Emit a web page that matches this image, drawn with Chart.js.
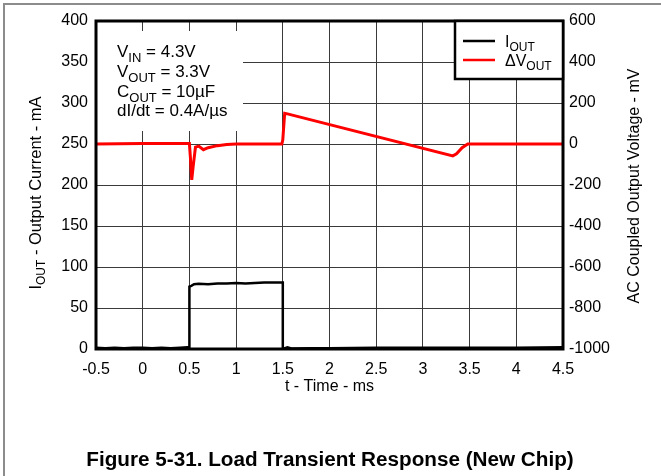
<!DOCTYPE html>
<html lang="en">
<head>
    <meta charset="UTF-8">
    <title>Load Transient Response (New Chip)</title>
    <script src="https://cdn.jsdelivr.net/npm/chart.js"></script>
    <style>
        body {
            margin: 0;
            background-color: white;
        }
        .wrap {
            position: relative;
            width: 661px;
            height: 476px;
        }
    </style>
</head>
<body>
    <div class="wrap">
        <canvas id="transientChart" width="661" height="476"></canvas>
    </div>

    <script>
        // Output current trace (time in ms, current in mA)
        const iTime = [-0.5, -0.4, -0.3, -0.2, -0.1, 0, 0.1, 0.2, 0.3, 0.4, 0.48, 0.5, 0.5, 0.52, 0.55, 0.6, 0.7, 0.8, 0.9, 1.0, 1.1, 1.2, 1.3, 1.4, 1.49, 1.5, 1.5, 1.55, 1.6, 1.8, 2.0, 2.5, 3.0, 3.5, 4.0, 4.5];
        const iOut  = [1.5, 1, 1.5, 1, 1.5, 1.5, 1, 1.5, 1, 1.5, 2, 2, 76, 77, 79, 79.5, 79, 80, 80, 80.5, 80, 80.5, 81, 81, 81, 81, 0, 2, 0.5, 1, 1, 1.5, 1.5, 1.5, 1.5, 2];

        // AC coupled output voltage trace (time in ms, voltage in mV)
        const vTime = [-0.5, 0, 0.5, 0.51, 0.525, 0.54, 0.565, 0.6, 0.65, 0.7, 0.8, 0.9, 1.0, 1.49, 1.5, 1.52, 1.55, 3.32, 3.36, 3.42, 3.48, 3.6, 4.0, 4.5];
        const vOut  = [0, 2, 2, -60, -175, -110, -15, -10, -28, -18, -8, -3, 0, 0, 20, 150, 147, -58, -48, -18, 0, 0, 0, 0];

        // Axis ranges / ticks
        const xRange = [-0.5, 4.5];
        const xStep = 0.5;
        const iRange = [0, 400];
        const iStep = 50;
        const vRange = [-1000, 600];
        const vStep = 200;

        const FONT = '"Liberation Sans", Arial, sans-serif';

        function toPoints(xs, ys) {
            return xs.map((x, i) => ({ x: x, y: ys[i] }));
        }

        // text with subscripts: parts = [[text, isSub], ...]
        function drawRich(ctx, parts, x, y, size, align) {
            const big = size + 'px ' + FONT;
            const small = Math.round(size * 0.75) + 'px ' + FONT;
            let w = 0;
            parts.forEach(p => {
                ctx.font = p[1] ? small : big;
                w += ctx.measureText(p[0]).width;
            });
            let cx = align === 'center' ? x - w / 2 : x;
            ctx.textAlign = 'left';
            ctx.textBaseline = 'alphabetic';
            parts.forEach(p => {
                ctx.font = p[1] ? small : big;
                ctx.fillText(p[0], cx, y + (p[1] ? size * 0.27 : 0));
                cx += ctx.measureText(p[0]).width;
            });
        }

        const decorations = {
            id: 'decorations',
            beforeDraw(chart) {
                const ctx = chart.ctx;
                ctx.save();
                ctx.fillStyle = 'white';
                ctx.fillRect(0, 0, chart.width, chart.height);
                // figure frame (left + top)
                ctx.strokeStyle = '#8c8c8c';
                ctx.lineWidth = 2;
                ctx.beginPath();
                ctx.moveTo(4, chart.height);
                ctx.lineTo(4, 4);
                ctx.lineTo(chart.width, 4);
                ctx.stroke();
                ctx.restore();
            },
            beforeDatasetsDraw(chart) {
                // white block behind the conditions text hides the grid
                const ctx = chart.ctx;
                const a = chart.chartArea;
                ctx.save();
                ctx.fillStyle = 'white';
                ctx.fillRect(a.left, 31, 243 - a.left, 100);
                ctx.restore();
            },
            afterDraw(chart) {
                const ctx = chart.ctx;
                const a = chart.chartArea;
                ctx.save();
                ctx.fillStyle = '#000';

                // plot frame
                ctx.strokeStyle = '#000';
                ctx.lineWidth = 3;
                ctx.strokeRect(a.left, a.top, a.right - a.left, a.bottom - a.top);

                // conditions text
                const tx = a.left + 21;
                drawRich(ctx, [['V', 0], ['IN', 1], [' = 4.3V', 0]], tx, 57, 17, 'left');
                drawRich(ctx, [['V', 0], ['OUT', 1], [' = 3.3V', 0]], tx, 77, 17, 'left');
                drawRich(ctx, [['C', 0], ['OUT', 1], [' = 10\u00b5F', 0]], tx, 97, 17, 'left');
                drawRich(ctx, [['dI/dt = 0.4A/\u00b5s', 0]], tx, 116, 17, 'left');

                // legend box
                const lx = 455, ly = a.top, lw = a.right - 455, lh = 58;
                ctx.fillStyle = 'white';
                ctx.fillRect(lx, ly, lw, lh);
                ctx.lineWidth = 2.5;
                ctx.strokeStyle = '#000';
                ctx.strokeRect(lx, ly, lw, lh);
                ctx.lineWidth = 2.5;
                ctx.beginPath();
                ctx.moveTo(463, 41); ctx.lineTo(495, 41);
                ctx.stroke();
                ctx.strokeStyle = '#ff0000';
                ctx.beginPath();
                ctx.moveTo(463, 60); ctx.lineTo(495, 60);
                ctx.stroke();
                ctx.fillStyle = '#000';
                drawRich(ctx, [['I', 0], ['OUT', 1]], 505, 47, 16, 'left');
                drawRich(ctx, [['\u0394V', 0], ['OUT', 1]], 505, 66, 16, 'left');

                // axis titles
                const cy = (a.top + a.bottom) / 2;
                ctx.save();
                ctx.translate(41, cy + 8);
                ctx.rotate(-Math.PI / 2);
                drawRich(ctx, [['I', 0], ['OUT', 1], [' - Output Current - mA', 0]], 0, 0, 16.5, 'center');
                ctx.restore();

                ctx.save();
                ctx.translate(639, cy + 1);
                ctx.rotate(-Math.PI / 2);
                drawRich(ctx, [['AC Coupled Output Voltage - mV', 0]], 0, 0, 16, 'center');
                ctx.restore();

                drawRich(ctx, [['t - Time - ms', 0]], (a.left + a.right) / 2, 391, 16, 'center');

                // caption
                ctx.font = 'bold 20.7px ' + FONT;
                ctx.textAlign = 'center';
                ctx.fillText('Figure 5-31. Load Transient Response (New Chip)', 330, 466);
                ctx.restore();
            }
        };

        new Chart(document.getElementById('transientChart'), {
            type: 'scatter',
            data: {
                datasets: [
                    {
                        label: 'IOUT',
                        data: toPoints(iTime, iOut),
                        yAxisID: 'y',
                        showLine: true,
                        borderColor: '#000',
                        borderWidth: 2.5,
                        pointRadius: 0,
                        tension: 0
                    },
                    {
                        label: '\u0394VOUT',
                        data: toPoints(vTime, vOut),
                        yAxisID: 'y1',
                        showLine: true,
                        borderColor: '#ff0000',
                        borderWidth: 3,
                        pointRadius: 0,
                        tension: 0
                    }
                ]
            },
            options: {
                responsive: false,
                animation: false,
                layout: {
                    padding: { top: 21, bottom: 77, left: 0, right: 0 }
                },
                plugins: {
                    legend: { display: false },
                    tooltip: { enabled: false }
                },
                scales: {
                    x: {
                        type: 'linear',
                        min: xRange[0],
                        max: xRange[1],
                        afterFit: (s) => { s.height = 50; },
                        ticks: {
                            stepSize: xStep,
                            padding: 11,
                            color: '#000',
                            font: { family: FONT, size: 16 },
                            callback: (v) => String(v)
                        },
                        grid: { color: '#3a3a3a', lineWidth: 1, drawTicks: false },
                        border: { display: false }
                    },
                    y: {
                        position: 'left',
                        min: iRange[0],
                        max: iRange[1],
                        afterFit: (s) => { s.width = 96; },
                        ticks: {
                            stepSize: iStep,
                            padding: 8,
                            color: '#000',
                            font: { family: FONT, size: 16 },
                            callback: (v) => String(v)
                        },
                        grid: { color: '#3a3a3a', lineWidth: 1, drawTicks: false },
                        border: { display: false }
                    },
                    y1: {
                        position: 'right',
                        min: vRange[0],
                        max: vRange[1],
                        afterFit: (s) => { s.width = 98; },
                        ticks: {
                            stepSize: vStep,
                            padding: 6,
                            color: '#000',
                            font: { family: FONT, size: 16 },
                            callback: (v) => String(v)
                        },
                        grid: { display: false, drawTicks: false },
                        border: { display: false }
                    }
                }
            },
            plugins: [decorations]
        });
    </script>
</body>
</html>
